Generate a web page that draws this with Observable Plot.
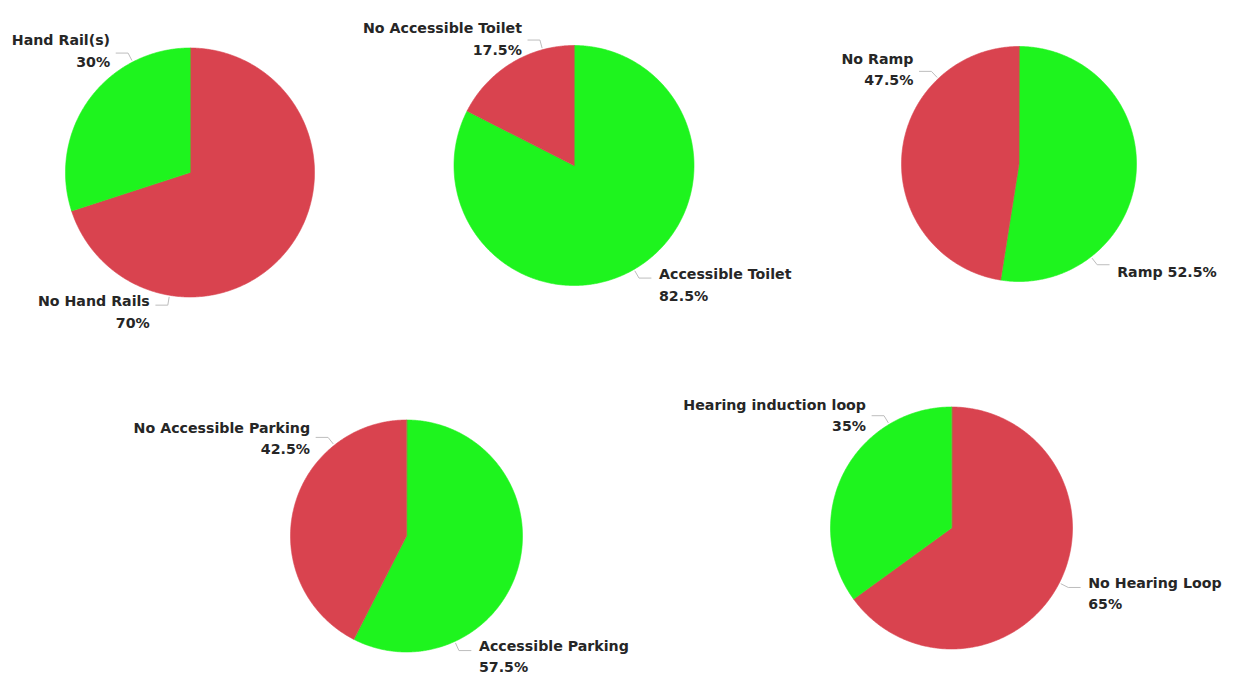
<!DOCTYPE html>
<html>
<head>
<meta charset="utf-8">
<script src="https://cdn.jsdelivr.net/npm/d3@7"></script>
<script src="https://cdn.jsdelivr.net/npm/@observablehq/plot@0.6"></script>
<style>
  html, body { margin: 0; padding: 0; background: #ffffff; }
  #chart { width: 1238px; height: 675px; }
</style>
</head>
<body>
<div id="chart"></div>
<script>
// ---------- DATA ----------
const pieNames = ["Hand Rails", "Accessible Toilet", "Ramp", "Accessible Parking", "Hearing Loop"];
const sliceLabels = [
  ["No Hand Rails", "Hand Rail(s)"],
  ["Accessible Toilet", "No Accessible Toilet"],
  ["Ramp", "No Ramp"],
  ["Accessible Parking", "No Accessible Parking"],
  ["No Hearing Loop", "Hearing induction loop"]
];
const sliceValues = [
  [70, 30],
  [82.5, 17.5],
  [52.5, 47.5],
  [57.5, 42.5],
  [65, 35]
];
const sliceStatus = [
  ["No", "Yes"],
  ["Yes", "No"],
  ["Yes", "No"],
  ["Yes", "No"],
  ["No", "Yes"]
];
const statusDomain = ["Yes", "No"];

// ---------- LAYOUT (positions / sizes only) ----------
const W = 1238, H = 675;
const pieLayout = [
  {cx: 189.5, cy: 172,   r: 124.5},
  {cx: 573.5, cy: 165,   r: 120},
  {cx: 1018.5, cy: 163.5, r: 117.5},
  {cx: 406,   cy: 535.5, r: 116},
  {cx: 951,   cy: 527.5, r: 121}
];
// leader angle (degrees clockwise from 12 o'clock), one-line label flag, vertical nudge of text block
const labelLayout = [
  [{angle: 189.5, oneLine: false, dy: 5},  {angle: 332.6, oneLine: false, dy: -4}],
  [{angle: 150,   oneLine: false, dy: 5},  {angle: 344.8, oneLine: false, dy: -3}],
  [{angle: 142.2, oneLine: true,  dy: 5},  {angle: 316.6, oneLine: false, dy: -4}],
  [{angle: 155.4, oneLine: false, dy: 4},  {angle: 321.5, oneLine: false, dy: -1}],
  [{angle: 117,   oneLine: false, dy: 4},  {angle: 329,   oneLine: false, dy: -2}]
];
const colors = ["#1ef41e", "#d9434f"];

// ---------- BUILD ----------
const fmtPct = v => (Number.isInteger(v) ? v : v.toFixed(1)) + "%";
const slicePts = [];
const leaderPts = [];
const labels = [];

pieNames.forEach((name, i) => {
  const {cx, cy, r} = pieLayout[i];
  const arcs = d3.pie().sort(null).value(d => d)(sliceValues[i]);
  arcs.forEach((a, j) => {
    const key = name + "|" + j;
    const status = sliceStatus[i][j];
    slicePts.push({key, status, x: cx, y: cy});
    const n = Math.max(2, Math.ceil((a.endAngle - a.startAngle) / (Math.PI / 360)));
    for (let k = 0; k <= n; k++) {
      const t = a.startAngle + (a.endAngle - a.startAngle) * k / n;
      slicePts.push({key, status, x: cx + r * Math.sin(t), y: cy - r * Math.cos(t)});
    }
    // leader line + label
    const L = labelLayout[i][j];
    const th = L.angle * Math.PI / 180;
    const dx = Math.sin(th), dy = -Math.cos(th);
    const side = dx >= 0 ? 1 : -1;
    const p0 = {x: cx + (r + 2) * dx, y: cy + (r + 2) * dy};
    const p1 = {x: cx + (r + 10) * dx, y: cy + (r + 10) * dy};
    const p2 = {x: p1.x + side * 12, y: p1.y};
    [p0, p1, p2].forEach(p => leaderPts.push({key, x: p.x, y: p.y}));
    const pct = fmtPct(sliceValues[i][j]);
    labels.push({
      x: p2.x + side * (side > 0 ? 8 : 6),
      y: p2.y + L.dy,
      text: L.oneLine ? sliceLabels[i][j] + " " + pct : sliceLabels[i][j] + "\n" + pct,
      anchor: side > 0 ? "start" : "end"
    });
  });
});

const textMark = anchor => Plot.text(labels.filter(d => d.anchor === anchor), {
  x: "x", y: "y", text: "text",
  textAnchor: anchor,
  lineAnchor: "middle",
  lineHeight: 1.5,
  fontSize: 14.2,
  fontWeight: 700,
  fill: "#262626"
});

const plot = Plot.plot({
  width: W,
  height: H,
  margin: 0,
  x: {domain: [0, W], range: [0, W], axis: null},
  y: {domain: [0, H], range: [0, H], axis: null},
  color: {domain: statusDomain, range: colors},
  style: {fontFamily: "'DejaVu Sans', 'Segoe UI', sans-serif", background: "#ffffff"},
  marks: [
    Plot.line(slicePts, {x: "x", y: "y", z: "key", fill: "status", stroke: "status", strokeWidth: 0.6, curve: "linear-closed"}),
    Plot.line(leaderPts, {x: "x", y: "y", z: "key", stroke: "#bdbdbd", strokeWidth: 1}),
    textMark("start"),
    textMark("end")
  ]
});
document.getElementById("chart").appendChild(plot);
</script>
</body>
</html>
